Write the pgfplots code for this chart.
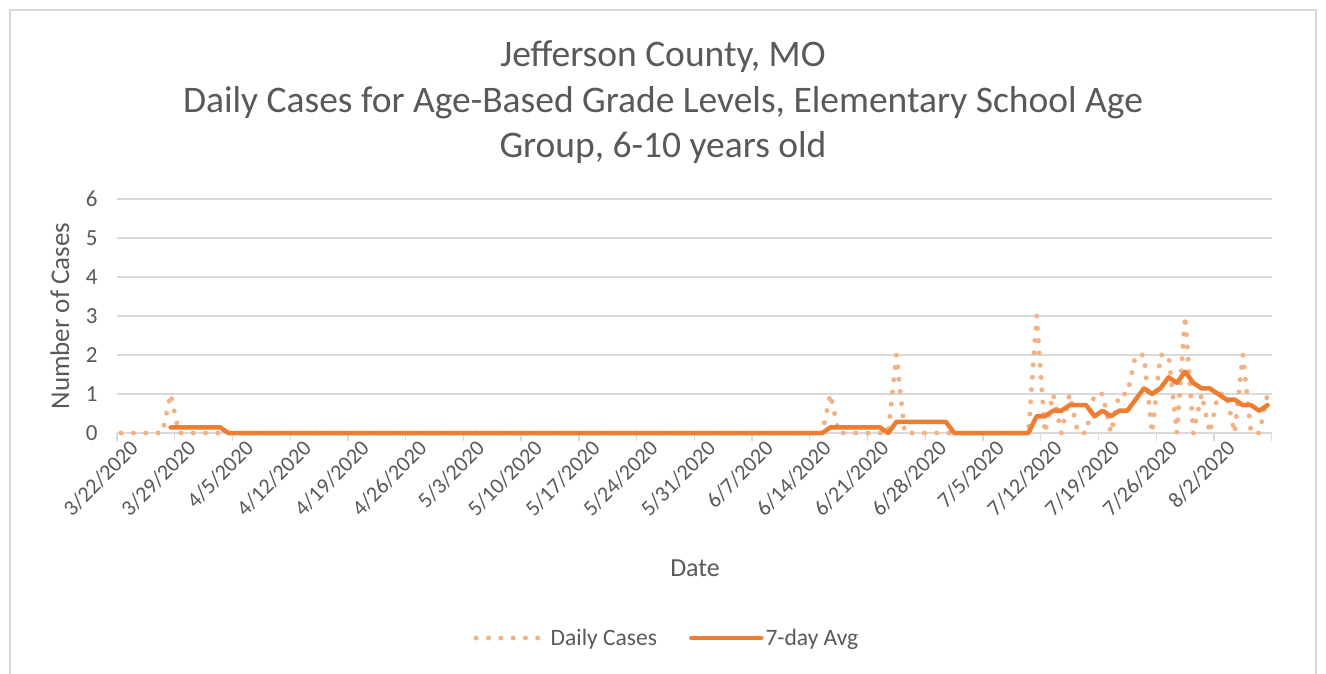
\documentclass[border=0pt]{standalone}
\usepackage{fontspec}
\setmainfont{Carlito}
\usepackage{pgfplots}
\pgfplotsset{compat=1.18}
\definecolor{txt}{HTML}{595959}
\definecolor{gridc}{HTML}{D9D9D9}
\definecolor{avgc}{HTML}{ED7D31}
\definecolor{dailyc}{HTML}{F4B183}
\begin{document}
\begin{tikzpicture}
\useasboundingbox (0,0) rectangle (1326pt,673pt);
\fill[white] (0,0) rectangle (1326pt,673pt);
\draw[gridc, line width=1.3pt] (10pt,-10pt) -- (10pt,663pt) -- (1316pt,663pt) -- (1316pt,-10pt);
\node[anchor=base, text=txt, font=\fontsize{37.5}{37.5}\selectfont] at (663pt,606pt) {Jefferson County, MO};
\node[anchor=base, text=txt, font=\fontsize{37.5}{37.5}\selectfont] at (663pt,560pt) {Daily Cases for Age-Based Grade Levels, Elementary School Age};
\node[anchor=base, text=txt, font=\fontsize{37.5}{37.5}\selectfont] at (663pt,515pt) {Group, 6-10 years old};
\begin{axis}[
  at={(117pt,240pt)}, anchor=south west, scale only axis,
  width=1154.7pt, height=234pt,
  xmin=-0.5, xmax=139.5, ymin=0, ymax=6,
  ytick={0,1,2,3,4,5,6},
  ymajorgrids, grid style={draw=gridc, line width=1.3pt},
  axis x line*=bottom, axis y line*=left,
  x axis line style={draw=gridc, line width=1.3pt, -},
  y axis line style={draw=none},
  xtick={-0.5,6.5,13.5,20.5,27.5,34.5,41.5,48.5,55.5,62.5,69.5,76.5,83.5,90.5,97.5,104.5,111.5,118.5,125.5,132.5,139.5},
  xticklabels={3/22/2020,3/29/2020,4/5/2020,4/12/2020,4/19/2020,4/26/2020,5/3/2020,5/10/2020,5/17/2020,5/24/2020,5/31/2020,6/7/2020,6/14/2020,6/21/2020,6/28/2020,7/5/2020,7/12/2020,7/19/2020,7/26/2020,8/2/2020,{}},
  xtick align=outside, major tick length=8pt,
  x tick style={draw=gridc, line width=1.3pt},
  y tick style={draw=none},
  xticklabel style={rotate=45, anchor=east, xshift=13pt, yshift=-15pt, font=\fontsize{22}{22}\selectfont, text=txt},
  yticklabel style={font=\fontsize{23}{23}\selectfont, text=txt, xshift=-16pt},
  /pgf/number format/assume math mode=true,
  xlabel={Date}, ylabel={Number of Cases},
  xlabel style={at={(rel axis cs:0.5006,-0.577)}, anchor=center, font=\fontsize{26}{26}\selectfont, text=txt},
  ylabel style={at={(rel axis cs:-0.0494,0.5)}, anchor=center, rotate=0, font=\fontsize{27}{27}\selectfont, text=txt},
  legend style={at={(0.4763,-0.876)}, anchor=center, draw=none, fill=none, legend columns=2,
    font=\fontsize{23.5}{23.5}\selectfont, text=txt,
    /tikz/every even column/.append style={column sep=30pt}},
  legend image code/.code={\draw[#1] (0pt,0pt) -- (70pt,0pt);},
  clip=false,
]
\addplot[dailyc, line width=5pt, line cap=round, dash pattern=on 0pt off 12.3pt] coordinates {
(0,0) (1,0) (2,0) (3,0) (4,0) (5,0) (6,1) (7,0) (8,0) (9,0)
(10,0) (11,0) (12,0) (13,0) (14,0) (15,0) (16,0) (17,0) (18,0) (19,0)
(20,0) (21,0) (22,0) (23,0) (24,0) (25,0) (26,0) (27,0) (28,0) (29,0)
(30,0) (31,0) (32,0) (33,0) (34,0) (35,0) (36,0) (37,0) (38,0) (39,0)
(40,0) (41,0) (42,0) (43,0) (44,0) (45,0) (46,0) (47,0) (48,0) (49,0)
(50,0) (51,0) (52,0) (53,0) (54,0) (55,0) (56,0) (57,0) (58,0) (59,0)
(60,0) (61,0) (62,0) (63,0) (64,0) (65,0) (66,0) (67,0) (68,0) (69,0)
(70,0) (71,0) (72,0) (73,0) (74,0) (75,0) (76,0) (77,0) (78,0) (79,0)
(80,0) (81,0) (82,0) (83,0) (84,0) (85,0) (86,1) (87,0) (88,0) (89,0)
(90,0) (91,0) (92,0) (93,0) (94,2) (95,0) (96,0) (97,0) (98,0) (99,0)
(100,0) (101,0) (102,0) (103,0) (104,0) (105,0) (106,0) (107,0) (108,0) (109,0)
(110,0) (111,3) (112,0) (113,1) (114,0) (115,1) (116,0) (117,0) (118,1) (119,1)
(120,0) (121,1) (122,1) (123,2) (124,2) (125,0) (126,2) (127,2) (128,0) (129,3)
(130,0) (131,1) (132,0) (133,1) (134,1) (135,0) (136,2) (137,0) (138,0) (139,1)
};
\addlegendentry{Daily Cases}
\addplot[avgc, line width=4.5pt, line join=round, line cap=round] coordinates {
(6,0.1429) (7,0.1429) (8,0.1429) (9,0.1429) (10,0.1429) (11,0.1429) (12,0.1429) (13,0) (14,0) (15,0)
(16,0) (17,0) (18,0) (19,0) (20,0) (21,0) (22,0) (23,0) (24,0) (25,0)
(26,0) (27,0) (28,0) (29,0) (30,0) (31,0) (32,0) (33,0) (34,0) (35,0)
(36,0) (37,0) (38,0) (39,0) (40,0) (41,0) (42,0) (43,0) (44,0) (45,0)
(46,0) (47,0) (48,0) (49,0) (50,0) (51,0) (52,0) (53,0) (54,0) (55,0)
(56,0) (57,0) (58,0) (59,0) (60,0) (61,0) (62,0) (63,0) (64,0) (65,0)
(66,0) (67,0) (68,0) (69,0) (70,0) (71,0) (72,0) (73,0) (74,0) (75,0)
(76,0) (77,0) (78,0) (79,0) (80,0) (81,0) (82,0) (83,0) (84,0) (85,0)
(86,0.1429) (87,0.1429) (88,0.1429) (89,0.1429) (90,0.1429) (91,0.1429) (92,0.1429) (93,0)
(94,0.2857) (95,0.2857) (96,0.2857) (97,0.2857) (98,0.2857) (99,0.2857) (100,0.2857)
(101,0) (102,0) (103,0) (104,0) (105,0) (106,0) (107,0) (108,0) (109,0) (110,0)
(111,0.4286) (112,0.4286) (113,0.5714) (114,0.5714) (115,0.7143) (116,0.7143) (117,0.7143) (118,0.4286) (119,0.5714) (120,0.4286)
(121,0.5714) (122,0.5714) (123,0.8571) (124,1.1429) (125,1) (126,1.1429) (127,1.4286) (128,1.2857) (129,1.5714) (130,1.2857)
(131,1.1429) (132,1.1429) (133,1) (134,0.8571) (135,0.8571) (136,0.7143) (137,0.7143) (138,0.5714) (139,0.7143)
};
\addlegendentry{7-day Avg}
\end{axis}
\end{tikzpicture}
\end{document}
